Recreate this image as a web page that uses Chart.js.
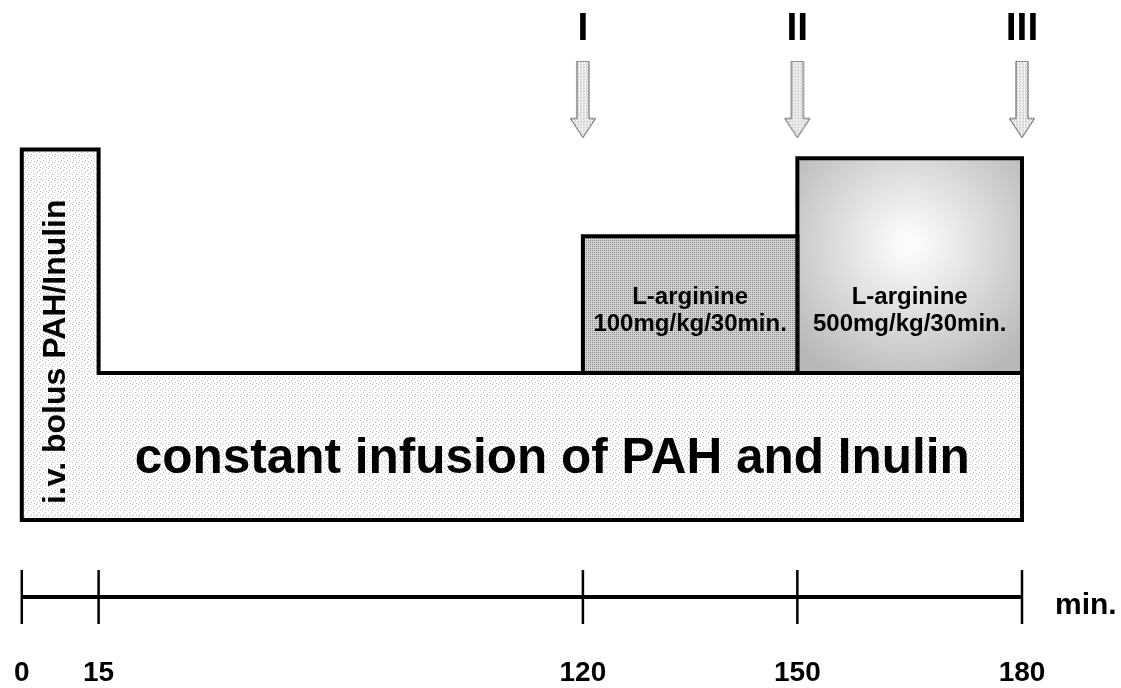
<!DOCTYPE html>
<html>
<head>
<meta charset="utf-8">
<script src="https://cdn.jsdelivr.net/npm/chart.js@4.4.1/dist/chart.umd.min.js"></script>
<style>
  html, body { margin: 0; padding: 0; background: #fff; }
  #wrap { width: 1121px; height: 688px; }
</style>
</head>
<body>
<div id="wrap"><canvas id="protocol"></canvas></div>
<script>
// time points of the protocol (min)
const timeTicks = [0, 15, 120, 150, 180];

// protocol phases: text lines, start/end (min), base and top of the box (infusion rate units)
const phaseLines = [
  ['i.v. bolus PAH/Inulin'],
  ['constant infusion of PAH and Inulin'],
  ['L-arginine', '100mg/kg/30min.'],
  ['L-arginine', '500mg/kg/30min.']
];
const phaseStart = [0, 0, 120, 150];
const phaseEnd = [15, 180, 150, 180];
const phaseBase = [0, 0, 1, 1];
const phaseTop = [2.52, 1, 1.93, 2.46];

// sampling periods
const sampleNames = ['I', 'II', 'III'];
const sampleTimes = [120, 150, 180];

// drawing setup (not data)
const axisStops = [0, 0.0768, 0.561, 0.7754, 1]; // share of axis width at each time tick
const arrowLevel = 2.86;
const timelineLevel = -0.524;
const sans = '"Liberation Sans", Arial, sans-serif';

// schematic time axis, not proportional between the ticks
class ProtocolScale extends Chart.LinearScale {
  toDecimal(v) {
    let i = 1;
    while (i < timeTicks.length - 1 && v > timeTicks[i]) i++;
    const t = (v - timeTicks[i - 1]) / (timeTicks[i] - timeTicks[i - 1]);
    return axisStops[i - 1] + t * (axisStops[i] - axisStops[i - 1]);
  }
  getPixelForValue(v) {
    return v === null || v === undefined ? NaN : this.getPixelForDecimal(this.toDecimal(v));
  }
  getValueForPixel(p) {
    const d = this.getDecimalForPixel(p);
    let i = 1;
    while (i < axisStops.length - 1 && d > axisStops[i]) i++;
    const t = (d - axisStops[i - 1]) / (axisStops[i] - axisStops[i - 1]);
    return timeTicks[i - 1] + t * (timeTicks[i] - timeTicks[i - 1]);
  }
}
ProtocolScale.id = 'protocol';
ProtocolScale.defaults = Chart.LinearScale.defaults;
Chart.register(ProtocolScale);

// dotted fills like the printed figure
function stipple(bg, dot, size, dots) {
  const c = document.createElement('canvas');
  c.width = size; c.height = size;
  const g = c.getContext('2d');
  g.fillStyle = bg;
  g.fillRect(0, 0, size, size);
  g.fillStyle = dot;
  dots.forEach(([px, py]) => g.fillRect(px, py, 1, 1));
  return g.createPattern(c, 'repeat');
}
const ctx = document.getElementById('protocol').getContext('2d');
const lightFill = stipple('#ffffff', '#bcbcbc', 6, [[0, 0], [3, 2], [1, 4], [4, 5]]);
const midFill = stipple('#d2d2d2', '#888888', 2, [[0, 0]]);
const arrowFill = stipple('#f4f4f4', '#b0b0b0', 3, [[0, 0], [2, 1]]);

function arrowImage() {
  const c = document.createElement('canvas');
  c.width = 28; c.height = 78;
  const g = c.getContext('2d');
  g.beginPath();
  g.moveTo(8, 0.5); g.lineTo(20, 0.5); g.lineTo(20, 58);
  g.lineTo(26.5, 58); g.lineTo(14, 77); g.lineTo(1.5, 58);
  g.lineTo(8, 58); g.closePath();
  g.fillStyle = arrowFill;
  g.fill();
  g.strokeStyle = '#555';
  g.lineWidth = 1;
  g.stroke();
  return c;
}

function box(i) {
  return [
    {x: phaseStart[i], y: phaseBase[i]},
    {x: phaseStart[i], y: phaseTop[i]},
    {x: phaseEnd[i], y: phaseTop[i]},
    {x: phaseEnd[i], y: phaseBase[i]},
    {x: phaseStart[i], y: phaseBase[i]}
  ];
}

// bolus column and the infusion share one outline
const bolusInfusion = [
  {x: phaseStart[0], y: phaseBase[0]},
  {x: phaseStart[0], y: phaseTop[0]},
  {x: phaseEnd[0], y: phaseTop[0]},
  {x: phaseEnd[0], y: phaseTop[1]},
  {x: phaseEnd[1], y: phaseTop[1]},
  {x: phaseEnd[1], y: phaseBase[1]},
  {x: phaseStart[0], y: phaseBase[0]}
];

function highDoseFill(context) {
  const chart = context.chart;
  const {x, y} = chart.scales;
  if (!chart.chartArea || !x || !y) return '#c8c8c8';
  const cx = x.getPixelForValue((phaseStart[3] + phaseEnd[3]) / 2);
  const cy = y.getPixelForValue(phaseBase[3] + (phaseTop[3] - phaseBase[3]) * 0.6);
  if (!Number.isFinite(cx) || !Number.isFinite(cy)) return '#c8c8c8';
  const gr = chart.ctx.createRadialGradient(cx, cy, 10, cx, cy, 150);
  gr.addColorStop(0, '#fbfbfb');
  gr.addColorStop(0.35, '#e4e4e4');
  gr.addColorStop(1, '#b8b8b8');
  return gr;
}

const boxStyle = {
  type: 'line',
  borderColor: '#000',
  borderWidth: 4,
  borderJoinStyle: 'miter',
  borderCapStyle: 'square',
  pointRadius: 0,
  tension: 0,
  fill: 'shape',
  clip: false
};

const protocolText = {
  id: 'protocolText',
  afterDatasetsDraw(chart) {
    const {ctx, scales: {x, y}} = chart;
    const midX = (a, b) => (x.getPixelForValue(a) + x.getPixelForValue(b)) / 2;
    const midY = (a, b) => (y.getPixelForValue(a) + y.getPixelForValue(b)) / 2;
    ctx.save();
    ctx.fillStyle = '#000';
    ctx.textAlign = 'center';
    ctx.textBaseline = 'middle';

    // bolus, written upwards
    ctx.save();
    ctx.translate(midX(phaseStart[0], phaseEnd[0]) - 4, midY(phaseBase[0], phaseTop[0]) + 17);
    ctx.rotate(-Math.PI / 2);
    ctx.font = 'bold 32px ' + sans;
    ctx.fillText(phaseLines[0][0], 0, 0);
    ctx.restore();

    // constant infusion, right of the bolus column
    ctx.font = 'bold 49.5px ' + sans;
    ctx.fillText(phaseLines[1][0], midX(phaseEnd[0], phaseEnd[1]) - 8, midY(phaseBase[1], phaseTop[1]) + 13);

    // L-arginine boxes, both at the height of the first one
    ctx.font = 'bold 24px ' + sans;
    const ty = midY(phaseBase[2], phaseTop[2]) + 6;
    [2, 3].forEach(i => {
      const tx = midX(phaseStart[i], phaseEnd[i]);
      ctx.fillText(phaseLines[i][0], tx, ty - 13);
      ctx.fillText(phaseLines[i][1], tx, ty + 14);
    });

    // sampling period names over the arrows
    ctx.font = 'bold 39px ' + sans;
    sampleNames.forEach((s, i) => {
      ctx.fillText(s, x.getPixelForValue(sampleTimes[i]), y.getPixelForValue(arrowLevel) - 70);
    });

    // axis unit
    ctx.textAlign = 'left';
    ctx.font = 'bold 30px ' + sans;
    ctx.fillText('min.', x.getPixelForValue(timeTicks[timeTicks.length - 1]) + 33, y.getPixelForValue(timelineLevel) + 9);
    ctx.restore();
  }
};

new Chart(ctx, {
  type: 'line',
  data: {
    datasets: [
      Object.assign({}, boxStyle, {label: 'PAH/Inulin', data: bolusInfusion, backgroundColor: lightFill, order: 3}),
      Object.assign({}, boxStyle, {label: 'L-arginine 100', data: box(2), backgroundColor: midFill, order: 2}),
      Object.assign({}, boxStyle, {label: 'L-arginine 500', data: box(3), backgroundColor: highDoseFill, order: 2}),
      {
        type: 'line',
        label: 'samples',
        data: sampleTimes.map(t => ({x: t, y: arrowLevel})),
        showLine: false,
        pointStyle: arrowImage(),
        pointRadius: 14,
        clip: false,
        order: 1
      },
      {
        type: 'line',
        label: 'time',
        data: timeTicks.map(t => ({x: t, y: timelineLevel})),
        borderColor: '#000',
        borderWidth: 4,
        borderCapStyle: 'butt',
        pointStyle: 'line',
        pointRotation: 90,
        pointRadius: 27,
        pointBorderWidth: 2.5,
        pointBorderColor: '#000',
        fill: false,
        clip: false,
        order: 1
      }
    ]
  },
  options: {
    responsive: true,
    maintainAspectRatio: false,
    animation: false,
    layout: {autoPadding: false, padding: {left: 20, right: 99, top: 0, bottom: 0}},
    plugins: {legend: {display: false}, tooltip: {enabled: false}},
    scales: {
      x: {
        type: 'protocol',
        min: 0,
        max: 180,
        afterBuildTicks: axis => { axis.ticks = timeTicks.map(v => ({value: v})); },
        afterFit: axis => { axis.height = 46; },
        grid: {display: false, drawTicks: false},
        border: {display: false},
        ticks: {
          color: '#000',
          font: {family: sans, size: 28, weight: 'bold'},
          padding: 14,
          maxRotation: 0,
          autoSkip: false
        }
      },
      y: {
        type: 'linear',
        display: false,
        min: -0.83,
        max: 3.537
      }
    }
  },
  plugins: [protocolText]
});
</script>
</body>
</html>
